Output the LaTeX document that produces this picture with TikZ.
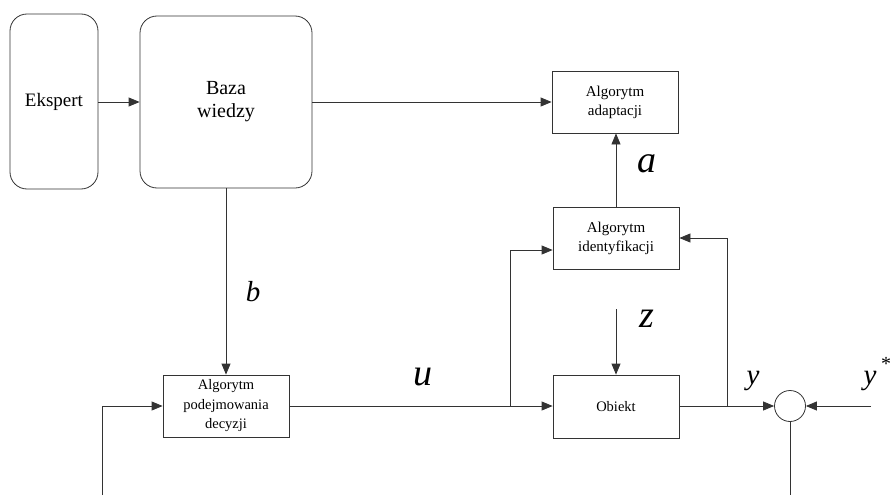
\documentclass[tikz,border=0pt]{standalone}
\usepackage{fontspec}
\setmainfont{Liberation Serif}
\usetikzlibrary{arrows.meta,calc}
\begin{document}
\begin{tikzpicture}[x=1pt,y=-1pt,
  line width=0.8pt,
  conn/.style={draw=black!80,-{Triangle[length=11pt,width=9pt]}},
  wire/.style={draw=black!80},
  rbox/.style={draw=black!80,rounded corners=17pt,align=center,inner sep=0pt},
  blockbox/.style={draw=black!80,align=center,inner sep=0pt,minimum width=126pt,minimum height=62pt},
  smalltxt/.style={font=\fontsize{15}{19}\selectfont},
  sig/.style={font=\itshape\fontsize{38}{38}\selectfont,inner sep=0pt},
  sigsm/.style={font=\itshape\fontsize{29}{29}\selectfont,inner sep=0pt},
  sumnode/.style={draw=black!80,circle,minimum size=31pt,inner sep=0pt}]
\useasboundingbox (0,0) rectangle (890,495);

% blocks
\node[rbox,minimum width=88pt,minimum height=175pt,font=\fontsize{19}{23}\selectfont] (ekspert) at (54,101.5) {Ekspert};
\node[rbox,minimum width=172pt,minimum height=172pt,font=\fontsize{20}{23}\selectfont] (baza) at (226,102) {Baza\\wiedzy};
\node[blockbox,smalltxt] (adapt) at (615,102) {Algorytm\\adaptacji};
\node[blockbox,smalltxt] (ident) at (616,238) {Algorytm\\identyfikacji};
\node[blockbox,font=\fontsize{14.5}{19.5}\selectfont] (decyz) at (226,406) {Algorytm\\podejmowania\\decyzji};
\node[blockbox,minimum height=63pt,font=\fontsize{14.5}{19.5}\selectfont] (obiekt) at (616,406.5) {Obiekt};
\node[sumnode] (sum) at (790,406) {};

% free ends and branch points
\coordinate (fb) at (102,495);
\coordinate (bu) at (510,406);
\coordinate (by) at (727,406);
\coordinate (zin) at (616,309);
\coordinate (ystar) at (871,406);
\coordinate (eout) at (790,495);

% connectors
\draw[conn] (ekspert.east |- baza.west) -- (baza.west);
\draw[conn] (baza.east |- adapt.west) -- (adapt.west);
\draw[conn] (ident.north) -- (ident.north |- adapt.south);
\draw[conn] (baza.south) -- (decyz.north);
\draw[conn] (fb) |- (decyz.west);
\draw[conn] (decyz.east) -- (decyz.east -| obiekt.west);
\draw[conn] (bu) |- ($(ident.west)+(0,12)$);
\draw[conn] (zin) -- (obiekt.north);
\draw[conn] (obiekt.east |- sum.west) -- (sum.west);
\draw[conn] (by) |- (ident.east);
\draw[conn] (ystar) -- (sum.east);
\draw[wire] (sum.south) -- (eout);

% signal labels
\node[sigsm] (lb) at (253,292) {b};
\node[sig] (la) at (647,164) {a};
\node[sig] (lz) at (647,319) {z};
\node[sig] (lu) at (423,377) {u};
\node[sigsm] (ly) at (753,381) {y};
\node[sigsm] (lys) at (870,381) {y};
\node[font=\fontsize{20}{20}\selectfont,inner sep=0pt] (lstar) at (886,364) {*};
\end{tikzpicture}
\end{document}
